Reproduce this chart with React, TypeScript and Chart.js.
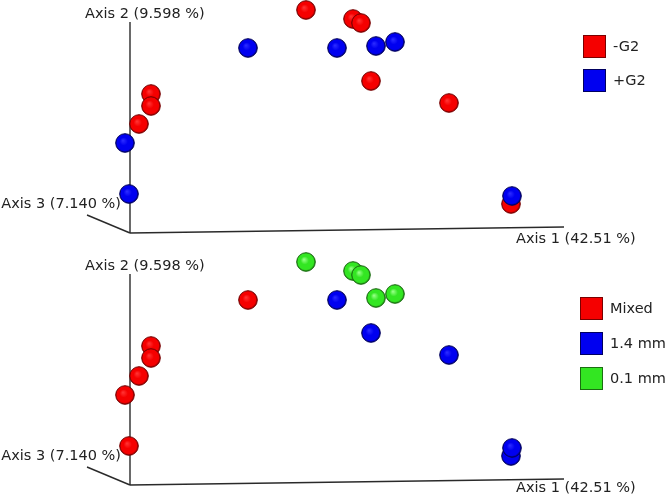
import React, { useEffect, useRef } from "react";
import { Chart, registerables } from "chart.js";

Chart.register(...registerables);

// Projected (screen-plane) coordinates of the 16 samples, origin at the axes corner
const SAMPLE_X = [1.76, 1.18, 0.21, 0.21, 0.09, -0.05, -0.01, 2.23, 2.31, 2.07, 2.46, 2.65, 2.41, 3.19, 3.81, 3.82];
const SAMPLE_Y = [2.23, 1.85, 1.39, 1.27, 1.09, 0.9, 0.39, 2.14, 2.1, 1.85, 1.87, 1.91, 1.52, 1.3, 0.29, 0.37];

const G2_GROUP = ["-G2", "+G2", "-G2", "-G2", "-G2", "+G2", "+G2", "-G2", "-G2", "+G2", "+G2", "+G2", "-G2", "-G2", "-G2", "+G2"];
const SIZE_GROUP = ["0.1 mm", "Mixed", "Mixed", "Mixed", "Mixed", "Mixed", "Mixed", "0.1 mm", "0.1 mm", "1.4 mm", "0.1 mm", "0.1 mm", "1.4 mm", "1.4 mm", "1.4 mm", "1.4 mm"];

const G2_LEVELS = ["-G2", "+G2"];
const SIZE_LEVELS = ["Mixed", "1.4 mm", "0.1 mm"];

const AXIS_LABELS = ["Axis 1 (42.51 %)", "Axis 2 (9.598 %)", "Axis 3 (7.140 %)"];
const AXIS_END_X = [4.34, 0, -0.43];
const AXIS_END_Y = [0.06, 2.11, 0.18];

const RED = { fill: "#f50000", edge: "#7a0000", hi: "#ff3030" };
const BLUE = { fill: "#0000f0", edge: "#000060", hi: "#2828ff" };
const GREEN = { fill: "#33e622", edge: "#1a6e10", hi: "#90ff80" };

function makeSphere(c: { fill: string; edge: string; hi: string }) {
  const d = 20;
  const cv = document.createElement("canvas");
  cv.width = d;
  cv.height = d;
  const ctx = cv.getContext("2d")!;
  const g = ctx.createRadialGradient(8, 7.5, 0.5, 10, 10, 9.5);
  g.addColorStop(0, c.hi);
  g.addColorStop(0.4, c.fill);
  g.addColorStop(0.82, c.fill);
  g.addColorStop(1, c.edge);
  ctx.beginPath();
  ctx.arc(10, 10, 9.3, 0, Math.PI * 2);
  ctx.fillStyle = g;
  ctx.fill();
  ctx.lineWidth = 1;
  ctx.strokeStyle = c.edge;
  ctx.stroke();
  return cv;
}

type PanelProps = {
  groups: string[];
  levels: string[];
  palette: { fill: string; edge: string; hi: string }[];
  height: number;
  yMin: number;
  legendX: number;
  legendTop: number;
  legendStep: number;
  axis1Dy: number;
};

function Panel(props: PanelProps) {
  const ref = useRef<HTMLCanvasElement>(null);
  useEffect(() => {
    const { groups, levels, palette, yMin, legendX, legendTop, legendStep, axis1Dy } = props;
    const sprites = palette.map(makeSphere);
    const pointSets = levels.map((lv, i) => ({
      type: "scatter" as const,
      label: lv,
      data: SAMPLE_X.map((x, k) => ({ x, y: SAMPLE_Y[k] })).filter((_, k) => groups[k] === lv),
      pointStyle: sprites[i],
      pointRadius: 10,
      showLine: false,
      clip: false as any,
      order: levels.length - i,
    }));
    const axisSets = AXIS_END_X.map((ex, i) => ({
      type: "scatter" as const,
      label: "axis" + i,
      data: [
        { x: 0, y: 0 },
        { x: ex, y: AXIS_END_Y[i] },
      ],
      showLine: true,
      pointRadius: 0,
      borderColor: "#2a2a2a",
      borderWidth: 1.4,
      clip: false as any,
      order: 20,
    }));

    const overlay = {
      id: "overlay",
      afterDraw(chart: any) {
        const ctx = chart.ctx as CanvasRenderingContext2D;
        const xs = chart.scales.x;
        const ys = chart.scales.y;
        const px = (i: number) => xs.getPixelForValue(AXIS_END_X[i]);
        const py = (i: number) => ys.getPixelForValue(AXIS_END_Y[i]);
        ctx.save();
        ctx.font = '14.5px "DejaVu Sans", Verdana, sans-serif';
        ctx.fillStyle = "#222222";
        ctx.textBaseline = "middle";
        ctx.textAlign = "left";
        ctx.fillText(AXIS_LABELS[0], px(0) - 48, py(0) + axis1Dy);
        ctx.fillText(AXIS_LABELS[1], px(1) - 45, py(1) - 8);
        ctx.textAlign = "right";
        ctx.fillText(AXIS_LABELS[2], px(2) + 34, py(2) - 11);
        // legend
        levels.forEach((lv, i) => {
          const y = legendTop + i * legendStep;
          ctx.fillStyle = palette[i].fill;
          ctx.fillRect(legendX, y, 23, 23);
          ctx.strokeStyle = palette[i].edge;
          ctx.lineWidth = 1;
          ctx.strokeRect(legendX + 0.5, y + 0.5, 22, 22);
          ctx.fillStyle = "#222222";
          ctx.textAlign = "left";
          ctx.fillText(lv, legendX + 30, y + 12);
        });
        ctx.restore();
      },
    };

    const chart = new Chart(ref.current!, {
      type: "scatter",
      data: { datasets: [...pointSets, ...axisSets] as any },
      options: {
        responsive: false,
        animation: false,
        events: [],
        layout: { padding: 0, autoPadding: false } as any,
        plugins: { legend: { display: false }, tooltip: { enabled: false } },
        scales: {
          x: { type: "linear", min: -1.3, max: 5.36, display: false },
          y: { type: "linear", min: yMin, max: 2.33, display: false },
        },
      },
      plugins: [overlay],
    });
    return () => chart.destroy();
  }, []);
  return <canvas ref={ref} width={666} height={props.height} style={{ display: "block", width: 666, height: props.height }} />;
}

export default function App() {
  return (
    <div style={{ position: "absolute", left: 0, top: 0, width: 666, height: 498, background: "#ffffff" }}>
      <Panel
        groups={G2_GROUP}
        levels={G2_LEVELS}
        palette={[RED, BLUE]}
        height={252}
        yMin={-0.19}
        legendX={583}
        legendTop={35}
        legendStep={34}
        axis1Dy={12}
      />
      <Panel
        groups={SIZE_GROUP}
        levels={SIZE_LEVELS}
        palette={[RED, BLUE, GREEN]}
        height={246}
        yMin={-0.13}
        legendX={580}
        legendTop={45}
        legendStep={35}
        axis1Dy={9}
      />
    </div>
  );
}
